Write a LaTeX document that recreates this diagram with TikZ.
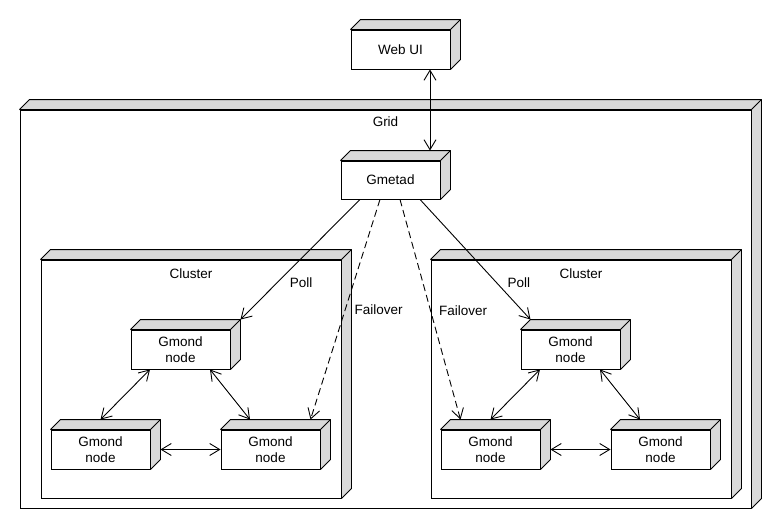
\documentclass[tikz,border=0pt]{standalone}
\usepackage{fontspec}
\setmainfont{Liberation Sans}
\usetikzlibrary{arrows.meta,calc}
\definecolor{sidegray}{RGB}{217,217,217}
\begin{document}
\begin{tikzpicture}[x=1pt,y=-1pt,line width=0.9pt,
    umlbox/.style={draw, fill=white, inner sep=0pt, align=center,
        font=\fontsize{13.5}{16.5}\selectfont},
    nodebox/.style={umlbox, minimum width=99pt, minimum height=39pt},
    depthface/.style={draw, fill=sidegray, line join=bevel},
    every label/.style={font=\fontsize{13.5}{16.5}\selectfont, inner sep=0pt, anchor=north},
    bothways/.style={{Straight Barb[length=10pt,width=12pt]}-{Straight Barb[length=10pt,width=12pt]}},
    pollarrow/.style={-{Straight Barb[length=10pt,width=12pt]}},
    failarrow/.style={pollarrow, dash pattern=on 7pt off 4pt},
    lbl/.style={font=\fontsize{13.5}{16.5}\selectfont, anchor=west, inner sep=0pt}]

    \useasboundingbox (0,0) rectangle (780,530);

    % let's define some key values
    \def\dep{10}
    \def\adddepth#1{%
        \draw[depthface] (#1.north west) -- ++(\dep,-\dep)
            -- ($(#1.north east)+(\dep,-\dep)$) -- ($(#1.south east)+(\dep,-\dep)$)
            -- (#1.south east) -- (#1.north east) -- cycle;
        \draw (#1.north east) -- ++(\dep,-\dep);}

    % grid and clusters
    \node[umlbox, minimum width=731pt, minimum height=398pt,
        label={[yshift=-7pt]north:Grid}] (grid) at (385.5,309) {};
    \node[umlbox, minimum width=300pt, minimum height=238pt,
        label={[yshift=-8.5pt]north:Cluster}] (clusterL) at (191,379) {};
    \node[umlbox, minimum width=300pt, minimum height=238pt,
        label={[yshift=-8.5pt]north:Cluster}] (clusterR) at (581,379) {};

    % web ui and gmetad
    \node[nodebox] (webui) at (400.5,49.5) {Web UI};
    \node[nodebox, minimum height=38pt] (gmetad) at (390.5,180) {Gmetad};

    % left cluster
    \node[nodebox] (gmondLt) at (180.5,349.5) {Gmond\\node};
    \node[nodebox] (gmondLa) at (100.5,449.5) {Gmond\\node};
    \node[nodebox] (gmondLb) at (270.5,449.5) {Gmond\\node};

    % right cluster
    \node[nodebox] (gmondRt) at (570.5,349.5) {Gmond\\node};
    \node[nodebox] (gmondRa) at (490.5,449.5) {Gmond\\node};
    \node[nodebox] (gmondRb) at (660.5,449.5) {Gmond\\node};

    % depth faces
    \adddepth{grid}
    \adddepth{clusterL}
    \adddepth{clusterR}
    \adddepth{webui}
    \adddepth{gmetad}
    \adddepth{gmondLt}
    \adddepth{gmondLa}
    \adddepth{gmondLb}
    \adddepth{gmondRt}
    \adddepth{gmondRa}
    \adddepth{gmondRb}

    % web ui <-> gmetad
    \coordinate (webx) at (430,0);
    \draw[bothways] (webui.south -| webx) -- ($(gmetad.north -| webx)+(0,-\dep)$);

    % poll and failover
    \draw[pollarrow] ($(gmetad.south)+(-30.5,0)$)
        -- node[lbl, pos=0.69, xshift=12pt] {Poll} ($(gmondLt.north east)+(\dep,-\dep)$);
    \draw[failarrow] ($(gmetad.south)+(-10.5,0)$)
        -- node[lbl, pos=0.5, xshift=9pt] {Failover} ($(gmondLb.north)+(40,-\dep)$);
    \draw[failarrow] ($(gmetad.south)+(9.5,0)$)
        -- node[lbl, pos=0.505, xshift=8pt] {Failover} ($(gmondRa.north)+(-30,-\dep)$);
    \draw[pollarrow] ($(gmetad.south)+(29.5,0)$)
        -- node[lbl, pos=0.69, xshift=11pt] {Poll} ($(gmondRt.north)+(-40,-\dep)$);

    % gmond links, left
    \draw[bothways] ($(gmondLt.south)+(-30.5,0)$) -- ($(gmondLa.north)+(0,-\dep)$);
    \draw[bothways] ($(gmondLt.south)+(29.5,0)$) -- ($(gmondLb.north)+(-20.5,-\dep)$);
    \draw[bothways] ($(gmondLa.east)+(\dep,0)$) -- (gmondLb.west);

    % gmond links, right
    \draw[bothways] ($(gmondRt.south)+(-30.5,0)$) -- ($(gmondRa.north)+(0,-\dep)$);
    \draw[bothways] ($(gmondRt.south)+(29.5,0)$) -- ($(gmondRb.north)+(-20.5,-\dep)$);
    \draw[bothways] ($(gmondRa.east)+(\dep,0)$) -- (gmondRb.west);

\end{tikzpicture}
\end{document}
